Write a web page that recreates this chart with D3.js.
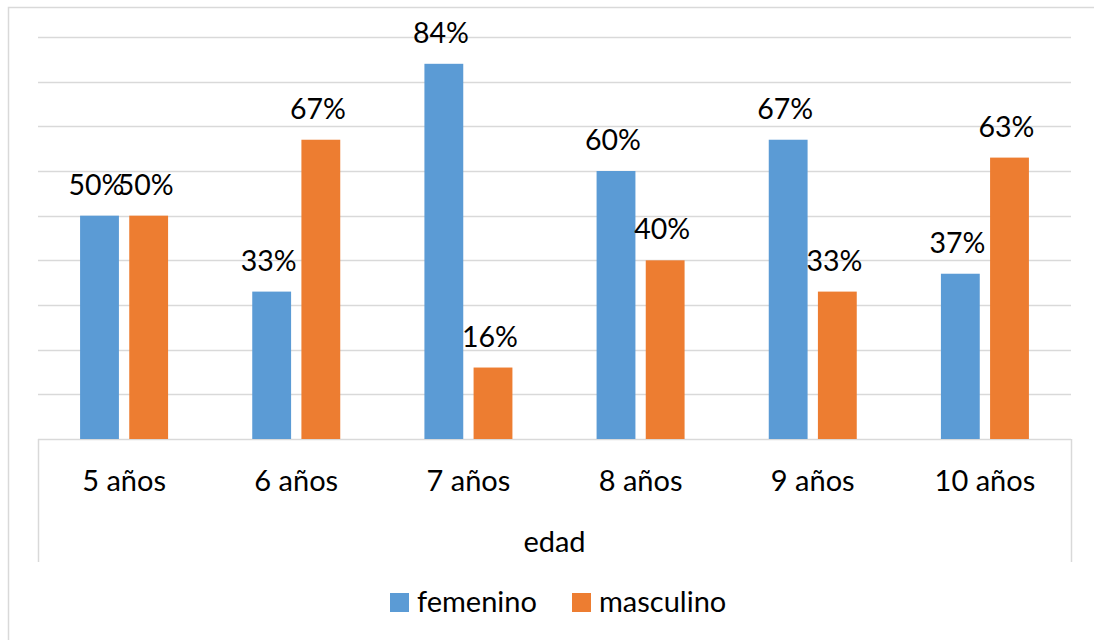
<!DOCTYPE html>
<html>
<head>
<meta charset="utf-8">
<script src="https://cdn.jsdelivr.net/npm/d3@7"></script>
<style>
  html, body { margin: 0; padding: 0; background: #fff; }
  svg { display: block; font-family: Lato, "Open Sans", sans-serif; }
</style>
</head>
<body>
<svg id="chart" width="1094" height="640"></svg>
<script>
// Age groups and share of each gender per group
const categories = ["5 años", "6 años", "7 años", "8 años", "9 años", "10 años"];
const seriesNames = ["femenino", "masculino"];
const femenino = [0.50, 0.33, 0.84, 0.60, 0.67, 0.37];
const masculino = [0.50, 0.67, 0.16, 0.40, 0.33, 0.63];
const gridTicks = [0, 0.1, 0.2, 0.3, 0.4, 0.5, 0.6, 0.7, 0.8, 0.9];
const axisTitle = "edad";

const colors = { femenino: "#5B9BD5", masculino: "#ED7D31" };
const gridColor = "#D9D9D9";

const svg = d3.select("#chart");

// Chart frame
svg.append("rect")
  .attr("x", 8.5).attr("y", 7.5)
  .attr("width", 1100).attr("height", 640)
  .attr("fill", "#fff")
  .attr("stroke", gridColor).attr("stroke-width", 1.5);

const plot = { left: 38, right: 1071, top: 37, bottom: 439 };

const x0 = d3.scaleBand()
  .domain(categories)
  .range([plot.left, plot.right])
  .paddingInner(0).paddingOuter(0);

const y = d3.scaleLinear()
  .domain([0, 0.9])
  .range([plot.bottom, plot.top]);

// Bars inside each group: ~38.7px wide with ~10.5px gap
const groupInner = 88;
const x1 = d3.scaleBand()
  .domain(seriesNames)
  .range([0, groupInner])
  .paddingInner(0.21).paddingOuter(0);

// Horizontal gridlines
svg.append("g")
  .selectAll("line")
  .data(gridTicks)
  .join("line")
  .attr("x1", plot.left).attr("x2", plot.right)
  .attr("y1", d => Math.round(y(d)) + 0.5)
  .attr("y2", d => Math.round(y(d)) + 0.5)
  .attr("stroke", gridColor)
  .attr("stroke-width", 1.5);

// Category axis box sides
[plot.left, plot.right].forEach(xv => {
  svg.append("line")
    .attr("x1", xv + 0.5).attr("x2", xv + 0.5)
    .attr("y1", plot.bottom).attr("y2", 562)
    .attr("stroke", gridColor).attr("stroke-width", 1.5);
});

const rows = categories.map((c, i) => ({
  cat: c,
  values: [
    { key: "femenino", value: femenino[i] },
    { key: "masculino", value: masculino[i] }
  ]
}));

const groups = svg.append("g")
  .selectAll("g")
  .data(rows)
  .join("g")
  .attr("transform", d => `translate(${x0(d.cat) + (x0.bandwidth() - groupInner) / 2},0)`);

groups.selectAll("rect")
  .data(d => d.values)
  .join("rect")
  .attr("x", d => x1(d.key))
  .attr("y", d => y(d.value))
  .attr("width", x1.bandwidth())
  .attr("height", d => y(0) - y(d.value))
  .attr("fill", d => colors[d.key]);

// Data labels
const fmt = d3.format(".0%");
groups.selectAll("text")
  .data(d => d.values)
  .join("text")
  .attr("x", d => x1(d.key) + x1.bandwidth() / 2 - 3)
  .attr("y", d => y(d.value) - 21)
  .attr("text-anchor", "middle")
  .attr("font-size", 28.5)
  .attr("fill", "#000")
  .text(d => fmt(d.value));

// Category labels
const xAxis = d3.axisBottom(x0).tickSize(0).tickPadding(0);
const axisG = svg.append("g")
  .attr("transform", `translate(0,${plot.bottom})`)
  .call(xAxis);
axisG.select(".domain").remove();
axisG.selectAll("text")
  .attr("dy", null)
  .attr("y", 52)
  .attr("font-size", 29)
  .attr("font-family", "Lato, 'Open Sans', sans-serif")
  .attr("fill", "#000");

// Axis title
svg.append("text")
  .attr("x", (plot.left + plot.right) / 2)
  .attr("y", 552)
  .attr("text-anchor", "middle")
  .attr("font-size", 29)
  .attr("fill", "#000")
  .text(axisTitle);

// Legend
const legendItems = [
  { key: "femenino", x: 390 },
  { key: "masculino", x: 572 }
];
const legend = svg.append("g");
legendItems.forEach(it => {
  legend.append("rect")
    .attr("x", it.x).attr("y", 593)
    .attr("width", 19).attr("height", 19)
    .attr("fill", colors[it.key]);
  legend.append("text")
    .attr("x", it.x + 27).attr("y", 612)
    .attr("font-size", 29)
    .attr("fill", "#000")
    .text(it.key);
});
</script>
</body>
</html>
